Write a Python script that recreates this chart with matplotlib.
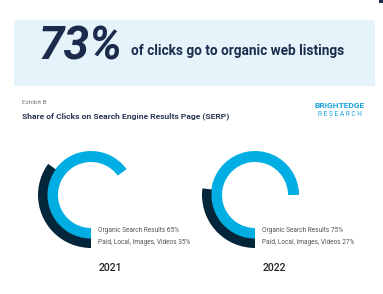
import numpy as np
import matplotlib
matplotlib.use("Agg")
import matplotlib.pyplot as plt
from matplotlib.patches import Rectangle

# ---- data ----
years = ["2021", "2022"]
organic = [65, 75]
paid = [35, 27]
organic_label = "Organic Search Results"
paid_label = "Paid, Local, Images, Videos"
headline_pct = "73%"
headline_text = "of clicks go to organic web listings"
exhibit = "Exhibit B"
subtitle = "Share of Clicks on Search Engine Results Page (SERP)"

W, H = 383, 294
DARK = "#1c2b4b"
BLUE = "#00aee3"
NAVY = "#04263a"

fig = plt.figure(figsize=(W / 100, H / 100), dpi=100)
fig.patch.set_facecolor("white")
bg = fig.add_axes([0, 0, 1, 1])
bg.set_xlim(0, W)
bg.set_ylim(H, 0)
bg.axis("off")

# header band
bg.add_patch(Rectangle((14, 20), 361, 66, color="#e5f4fb", lw=0))
bg.add_patch(Rectangle((379, 0), 4, 2.5, color=DARK, lw=0))
bg.text(38, 47, headline_pct, fontsize=33, fontweight="bold", style="italic",
        family=["Roboto", "DejaVu Sans"], color=DARK, va="center", ha="left")
bg.text(131, 51, headline_text, fontsize=9.8, fontweight="bold",
        family=["Roboto", "DejaVu Sans"], color=DARK, va="center", ha="left")

bg.text(22, 103, exhibit, fontsize=4.6, family=["Roboto", "DejaVu Sans"],
        color="#7a7a7a", va="center", ha="left")
bg.text(22, 116, subtitle, fontsize=6.1, fontweight="bold",
        family=["Roboto", "DejaVu Sans"], color="#2b3a55", va="center", ha="left")

# logo
bg.text(340, 105, "BRIGHTEDGE", fontsize=6.0, fontweight="bold",
        family=["Roboto", "DejaVu Sans"], color="#1aa3dc", va="center", ha="center")
bg.text(340, 114, "R E S E A R C H", fontsize=4.8,
        family=["Roboto", "DejaVu Sans"], color="#1aa3dc", va="center", ha="center")

# donuts
centers = [(91, 195), (255, 195)]
R = 53
for (cx, cy), yr, o, p in zip(centers, years, organic, paid):
    ax = fig.add_axes([(cx - R) / W, 1 - (cy + R) / H, 2 * R / W, 2 * R / H],
                      projection="polar")
    ax.set_theta_zero_location("S")
    ax.set_theta_direction(-1)
    ax.set_ylim(0, R)
    ax.barh(38.5, o / 100 * 2 * np.pi, left=0, height=11, color=BLUE, align="center")
    ax.barh(48.5, p / 100 * 2 * np.pi, left=0, height=10, color=NAVY, align="center")
    ax.axis("off")
    ax.patch.set_alpha(0)
    tx = cx + 7
    bg.text(tx, 231, f"{organic_label} {o}%", fontsize=4.7,
            family=["Roboto", "DejaVu Sans"], color="#555555", va="center", ha="left")
    bg.text(tx, 243, f"{paid_label} {p}%", fontsize=4.7,
            family=["Roboto", "DejaVu Sans"], color="#555555", va="center", ha="left")
    bg.text(cx + 19, 268, yr, fontsize=7.5, family=["Roboto", "DejaVu Sans"],
            color="#222222", va="center", ha="center", fontweight="medium")

fig.savefig("out.png", dpi=100, facecolor="white")
